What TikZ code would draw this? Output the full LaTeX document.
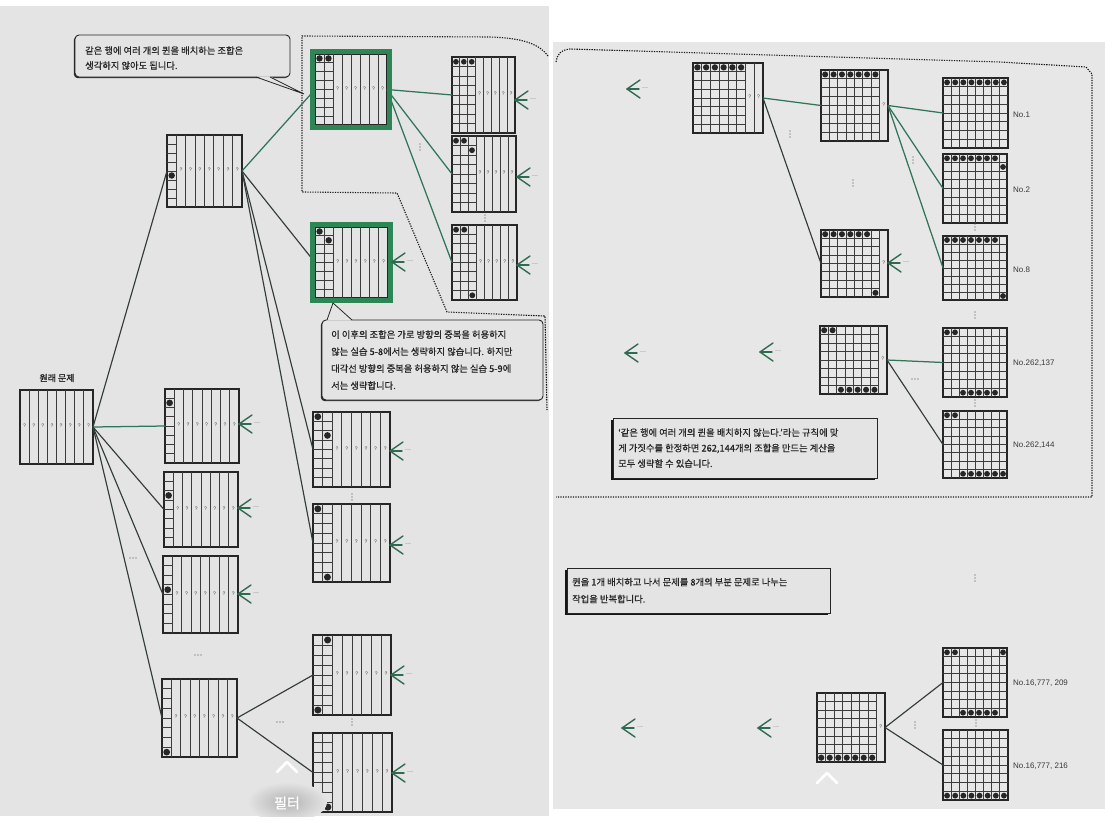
\documentclass[tikz,border=0pt]{standalone}
\usepackage{fontspec}
\setmainfont{Noto Sans CJK KR}
\newfontfamily\krfont[FakeBold=0.6]{Noto Sans CJK KR}
\newfontfamily\krbold[FakeBold=1.5]{Noto Sans CJK KR}
\newfontfamily\latfont{Liberation Sans}
\usetikzlibrary{calc,shadows}

\definecolor{pageL}{HTML}{E4E4E4}
\definecolor{pageR}{HTML}{E7E7E7}
\definecolor{ink}{HTML}{262626}
\definecolor{gline}{HTML}{2F7557}
\definecolor{dline}{HTML}{323D37}
\definecolor{gframecol}{HTML}{2E8657}
\definecolor{arrowcol}{HTML}{2F6B50}

\tikzset{
 boardbox/.style={draw=ink, line width=1.2pt, inner sep=0pt, outer sep=0pt},
 gridline/.style={draw=ink!90, line width=0.85pt},
 qmark/.style={font=\latfont\fontsize{5}{5}\selectfont, text=gray!50!black, inner sep=0pt},
 conn/.style={draw=dline, line width=1.15pt},
 gconn/.style={draw=gline, line width=1.25pt},
 backarr/.style={draw=arrowcol, line width=1.4pt, line cap=round, line join=round},
 ellip/.style={font=\latfont\fontsize{6}{6}\selectfont, text=gray!60!black, inner sep=0pt},
 gframe/.style={draw=gframecol, line width=4.5pt},
 region/.style={draw=gray!20!black, line width=1.1pt, dash pattern=on 1.3pt off 1.2pt},
 notebox/.style={draw=ink, line width=0.9pt, fill=pageL, inner sep=0pt, outer sep=0pt},
 notetext/.style={text=ink, align=left, inner sep=0pt, anchor=west},
 nolabel/.style={font=\latfont\fontsize{8}{8}\selectfont, text=gray!45!black, anchor=west, inner sep=0pt},
 dotc/.style={fill=gray!55!black},
}

% board: name, x1, y1, x2, y2, grid columns, queens (col/row list)
\newcommand{\qb}[7]{%
  \pgfmathsetmacro\bw{#4-#2}\pgfmathsetmacro\bh{#5-#3}%
  \pgfmathsetmacro\bcx{(#2+#4)/2}\pgfmathsetmacro\bcy{(#3+#5)/2}%
  \pgfmathsetmacro\qrad{min(\bw,\bh)/8*0.36}%
  \node[boardbox, minimum width=\bw pt, minimum height=\bh pt] (#1) at (\bcx,\bcy) {};
  \foreach \i in {1,...,7} \draw[gridline] ({#2+\i*\bw/8},#3) -- ({#2+\i*\bw/8},#5);
  \ifnum#6>0
    \foreach \j in {1,...,7} \draw[gridline] (#2,{#3+\j*\bh/8}) -- ({#2+#6*\bw/8},{#3+\j*\bh/8});
  \fi
  \ifnum#6<8
    \pgfmathtruncatemacro\kk{#6+1}%
    \foreach \i in {\kk,...,8} \node[qmark] at ({#2+(\i-0.5)*\bw/8},{\bcy-1}) {?};
  \fi
  \if\relax\detokenize{#7}\relax\else
    \foreach \qc/\qrr in {#7} \fill[ink] ({#2+(\qc-0.5)*\bw/8},{#3+(\qrr-0.5)*\bh/8}) circle (\qrad);
  \fi
}

% back arrow with trailing dots: name, x, y (tip)
\newcommand{\barr}[3]{%
  \coordinate (#1) at (#2,#3);
  \draw[backarr] ($(#1)+(13,-9)$) -- (#1) -- ($(#1)+(13,9)$);
  \draw[backarr] (#1) -- ($(#1)+(12,0)$);
  \node[ellip, anchor=west] (#1d) at ($(#1)+(15,0)$) {···};
}
\newcommand{\vdt}[2]{\foreach \d in {-3,0,3} \fill[dotc] ({#1},{#2+(\d)}) circle (0.6);}
\newcommand{\hdt}[2]{\foreach \d in {-3,0,3} \fill[dotc] ({#1+(\d)},{#2}) circle (0.6);}

\begin{document}
\begin{tikzpicture}[x=1pt,y=-1pt]
\useasboundingbox (0,0) rectangle (1105,822);
\fill[white] (0,0) rectangle (1105,822);
\fill[pageL] (0,6) rectangle (549,816);
\fill[pageR] (553,42) rectangle (1105,809);

% dotted regions
\draw[region] (548,56) .. controls (540,45) and (525,38) .. (490,37) -- (302,36) -- (302,192) -- (397,193) -- (447,312) -- (545,316) -- (547,410);
\draw[region] (556,62) .. controls (557,55) and (560,50) .. (570,49) -- (1000,62) -- (1086,67) -- (1092,74) -- (1092,497) -- (556,497);

% ---------- boards, left page
\qb{root}{20}{390}{93}{464}{0}{}
\qb{A}{167}{135}{242}{207}{1}{1/5}
\qb{B1}{165}{389}{239}{463}{1}{1/2}
\qb{B2}{164}{472}{238}{547}{1}{1/3}
\qb{B3}{163}{556}{238}{633}{1}{1/4}
\qb{B4}{162}{679}{237}{757}{1}{1/8}
\qb{G1}{315}{54}{387}{125}{2}{1/1,2/1}
\qb{G2}{315}{227}{388}{298}{2}{1/1,2/2}
\qb{C1}{313}{412}{390}{487}{2}{1/1,2/3}
\qb{C2}{313}{504}{390}{582}{2}{1/1,2/8}
\qb{C3}{313}{635}{391}{715}{2}{2/1,1/8}
\qb{C4}{313}{733}{392}{812}{2}{1/8,2/8}
\qb{D1}{452}{57}{515}{133}{3}{1/1,2/1,3/1}
\qb{D2}{452}{136}{516}{212}{3}{1/1,2/1,3/2}
\qb{D3}{452}{225}{517}{300}{3}{1/1,2/1,3/8}

% ---------- boards, right page
\qb{E1}{693}{63}{763}{133}{6}{1/1,2/1,3/1,4/1,5/1,6/1}
\qb{E2}{821}{70}{888}{141}{7}{1/1,2/1,3/1,4/1,5/1,6/1,7/1}
\qb{E3}{821}{230}{888}{297}{7}{1/1,2/1,3/1,4/1,5/1,6/1,7/8}
\qb{E4}{820}{326}{887}{394}{7}{1/1,2/1,3/8,4/8,5/8,6/8,7/8}
\qb{E5}{817}{693}{885}{762}{7}{1/8,2/8,3/8,4/8,5/8,6/8,7/8}
\qb{F1}{943}{78}{1008}{148}{8}{1/1,2/1,3/1,4/1,5/1,6/1,7/1,8/1}
\qb{F2}{943}{154}{1007}{223}{8}{1/1,2/1,3/1,4/1,5/1,6/1,7/1,8/2}
\qb{F3}{943}{236}{1007}{300}{8}{1/1,2/1,3/1,4/1,5/1,6/1,7/1,8/8}
\qb{F4}{943}{328}{1007}{397}{8}{1/1,2/1,3/8,4/8,5/8,6/8,7/8}
\qb{F5}{943}{411}{1007}{478}{8}{1/1,2/1,3/8,4/8,5/8,6/8,7/8,8/8}
\qb{F6}{943}{648}{1007}{717}{8}{1/1,2/1,8/1,3/8,4/8,5/8,6/8,7/8}
\qb{F7}{943}{730}{1008}{800}{8}{1/8,2/8,3/8,4/8,5/8,6/8,7/8,8/8}

% ---------- connectors
\draw[conn] (root.east) -- (A.west);
\draw[gconn] (root.east) -- (B1.west);
\draw[conn] (root.east) -- (B2.west);
\draw[conn] (root.east) -- (B3.west);
\draw[conn] (root.east) -- (B4.west);
\draw[gconn] (A.east) -- (G1.west);
\draw[conn] (A.east) -- (G2.west);
\draw[conn] (A.east) -- (C1.west);
\draw[conn] (A.east) -- (C2.west);
\draw[gconn] (G1.east) -- (D1.west);
\draw[gconn] (G1.east) -- (D2.west);
\draw[gconn] (G1.east) -- (D3.west);
\draw[conn] (B4.east) -- (C3.west);
\draw[conn] (B4.east) -- (C4.west);
\draw[gconn] (E1.east) -- (E2.west);
\draw[conn] (E1.east) -- (E3.west);
\draw[gconn] (E2.east) -- (F1.west);
\draw[gconn] (E2.east) -- (F2.west);
\draw[gconn] (E2.east) -- (F3.west);
\draw[gconn] (E4.east) -- (F4.west);
\draw[conn] (E4.east) -- (F5.west);
\draw[conn] (E5.east) -- (F6.west);
\draw[conn] (E5.east) -- (F7.west);

% green frames
\draw[gframe] ($(G1.north west)+(-2.5,-2.5)$) rectangle ($(G1.south east)+(2.5,2.5)$);
\draw[gframe] ($(G2.north west)+(-2.5,-2.5)$) rectangle ($(G2.south east)+(2.5,2.5)$);

% ---------- back arrows
\barr{aB1}{239}{424}
\barr{aB2}{238}{508}
\barr{aB3}{238}{594}
\barr{aC1}{390}{451}
\barr{aC2}{390}{545}
\barr{aC3}{391}{675}
\barr{aC4}{392}{773}
\barr{aG2}{392}{262}
\barr{aD1}{515}{100}
\barr{aD2}{517}{177}
\barr{aD3}{517}{265}
\barr{aE3}{888}{263}
\barr{aR1}{627}{89}
\barr{aR2}{625}{353}
\barr{aR3}{760}{352}
\barr{aR4}{622}{728}
\barr{aR5}{758}{728}

% ---------- ellipses
\hdt{133}{558} \hdt{198}{655} \hdt{280}{722} \hdt{915}{379}
\vdt{420}{147} \vdt{485}{218} \vdt{352}{497} \vdt{352}{722}
\vdt{790}{134} \vdt{853}{183} \vdt{913}{160} \vdt{975}{227}
\vdt{975}{315} \vdt{975}{403} \vdt{975}{578} \vdt{915}{725} \vdt{976}{723}

% ---------- labels
\node[font=\krbold\fontsize{9}{9}\selectfont, text=ink, inner sep=0pt] (rootlabel) at (57,378) {원래 문제};
\node[nolabel] (l1) at (1013,115) {No.1};
\node[nolabel] (l2) at (1013,190) {No.2};
\node[nolabel] (l8) at (1013,270) {No.8};
\node[nolabel] (l137) at (1013,363) {No.262,137};
\node[nolabel] (l144) at (1013,445) {No.262,144};
\node[nolabel] (l209) at (1013,683) {No.16,777, 209};
\node[nolabel] (l216) at (1013,766) {No.16,777, 216};

% ---------- callouts
\node[notebox, rounded corners=4pt, minimum width=215pt, minimum height=42pt, drop shadow={shadow xshift=-1.2pt, shadow yshift=-1.2pt, fill=black, opacity=0.8}] (note1) at (182.5,56) {};
\fill[pageL] (256,76.3) -- (304,94) -- (270,76.3) -- cycle;
\draw[ink, line width=0.8pt] (256,77) -- (304,94) -- (270,77);
\node[notetext, font=\krfont\fontsize{9.3}{15}\selectfont] (note1t) at ($(note1.west)+(10,2)$) {같은 행에 여러 개의 퀸을 배치하는 조합은\\생각하지 않아도 됩니다.};

\node[notebox, rounded corners=4pt, minimum width=221pt, minimum height=80pt, drop shadow={shadow xshift=-1.2pt, shadow yshift=-1.2pt, fill=black, opacity=0.8}] (note2) at (432.5,360) {};
\fill[pageL] (327,320.6) -- (333,303) -- (352,320.6) -- cycle;
\draw[ink, line width=0.8pt] (327,320) -- (333,303) -- (352,320);
\node[notetext, font=\krfont\fontsize{9.3}{17}\selectfont] (note2t) at ($(note2.west)+(9,0)$) {이 이후의 조합은 가로 방향의 중복을 허용하지\\않는 실습 5-8에서는 생략하지 않습니다. 하지만\\대각선 방향의 중복을 허용하지 않는 실습 5-9에\\서는 생략합니다.};

\node[notebox, minimum width=264pt, minimum height=60pt, drop shadow={shadow xshift=-2pt, shadow yshift=-2pt, fill=black, opacity=0.9}] (note3) at (745,448) {};
\node[notetext, font=\krfont\fontsize{9.3}{15.5}\selectfont] (note3t) at ($(note3.west)+(5,0)$) {‘같은 행에 여러 개의 퀸을 배치하지 않는다.’라는 규칙에 맞\\게 가짓수를 한정하면 262,144개의 조합을 만드는 계산을\\모두 생략할 수 있습니다.};

\node[notebox, minimum width=263pt, minimum height=45pt, drop shadow={shadow xshift=-2pt, shadow yshift=-2pt, fill=black, opacity=0.9}] (note4) at (698.5,590.5) {};
\node[notetext, font=\krfont\fontsize{9.3}{17}\selectfont] (note4t) at ($(note4.west)+(5,0)$) {퀸을 1개 배치하고 나서 문제를 8개의 부분 문제로 나누는\\작업을 반복합니다.};

% ---------- viewer overlay
\begin{scope}
\clip (0,6) rectangle (549,816);
\shade[inner color=gray!60, outer color=pageL] (287,802) ellipse (40 and 20);
\end{scope}
\draw[white, line width=2.6pt, line cap=round, line join=round] (277,772) -- (287,762) -- (297,772);
\draw[white, line width=2.6pt, line cap=round, line join=round] (817,783) -- (827,773) -- (837,783);
\node[font=\krbold\fontsize{14}{14}\selectfont, text=white, inner sep=0pt] (filt) at (287,803) {필터};
\end{tikzpicture}
\end{document}
